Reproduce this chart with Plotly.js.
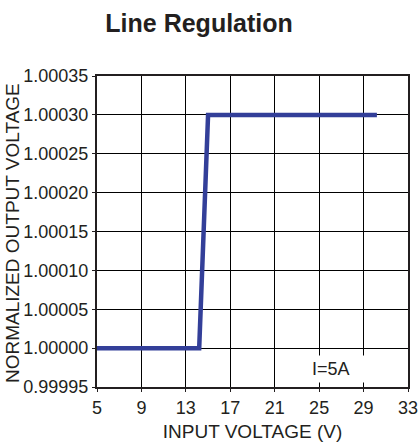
<!DOCTYPE html>
<html>
<head>
<meta charset="utf-8">
<script src="https://cdn.plot.ly/plotly-3.0.1.min.js"></script>
<style>html,body{margin:0;padding:0;background:#fff;}#chart{width:420px;height:445px;}</style>
</head>
<body>
<div id="chart"></div>
<script>
const inputVoltage = [5, 14.2, 15.0, 30.2];
const normalizedOutput = [1.00000, 1.00000, 1.00030, 1.00030];
const xTicks = [5, 9, 13, 17, 21, 25, 29, 33];
const yTicks = [0.99995, 1.00000, 1.00005, 1.00010, 1.00015, 1.00020, 1.00025, 1.00030, 1.00035];
const noteText = 'I=5A';
const yTitle = 'NORMALIZED OUTPUT VOLTAGE';

const font = {family: 'Liberation Sans, Arial, sans-serif', color: '#231f20'};

Plotly.newPlot('chart', [{
  x: inputVoltage,
  y: normalizedOutput,
  type: 'scatter',
  mode: 'lines',
  line: {color: '#333f99', width: 4.5},
  hoverinfo: 'skip'
}], {
  width: 420, height: 445,
  margin: {l: 97, r: 12, t: 76, b: 58},
  paper_bgcolor: '#fff', plot_bgcolor: '#fff',
  showlegend: false,
  title: {text: '<b>Line Regulation</b>', font: Object.assign({}, font, {size: 25}), x: 0.474, xanchor: 'center', y: 0.948, yanchor: 'middle'},
  xaxis: {
    range: [5, 33], tickvals: xTicks, ticktext: xTicks.map(String),
    showgrid: true, gridcolor: '#000', gridwidth: 1,
    showline: true, linecolor: '#231f20', linewidth: 2, mirror: true,
    ticks: 'outside', ticklen: 3, tickcolor: '#231f20',
    tickfont: Object.assign({}, font, {size: 18}),
    zeroline: false,
    title: {text: 'INPUT VOLTAGE (V)', font: Object.assign({}, font, {size: 19}), standoff: 8}
  },
  yaxis: {
    range: [0.99995, 1.00035], tickvals: yTicks, ticktext: yTicks.map(v => v.toFixed(5)),
    showgrid: true, gridcolor: '#000', gridwidth: 1,
    showline: true, linecolor: '#231f20', linewidth: 2, mirror: true,
    ticks: 'outside', ticklen: 3, tickcolor: '#231f20',
    tickfont: Object.assign({}, font, {size: 18}),
    zeroline: false
  },
  annotations: [{
    x: 24.0, y: 0.999973, xref: 'x', yref: 'y', xanchor: 'left', yanchor: 'middle',
    text: noteText, showarrow: false, align: 'left', width: 55, height: 20,
    font: Object.assign({}, font, {size: 18}),
    bgcolor: '#fff', borderpad: 3
  }, {
    x: 0, y: 0.495, xref: 'paper', yref: 'paper', xanchor: 'center', yanchor: 'middle',
    xshift: -85, text: yTitle, textangle: -90, showarrow: false, borderpad: 0,
    font: Object.assign({}, font, {size: 19})
  }]
}, {displayModeBar: false, staticPlot: true});
</script>
</body>
</html>
